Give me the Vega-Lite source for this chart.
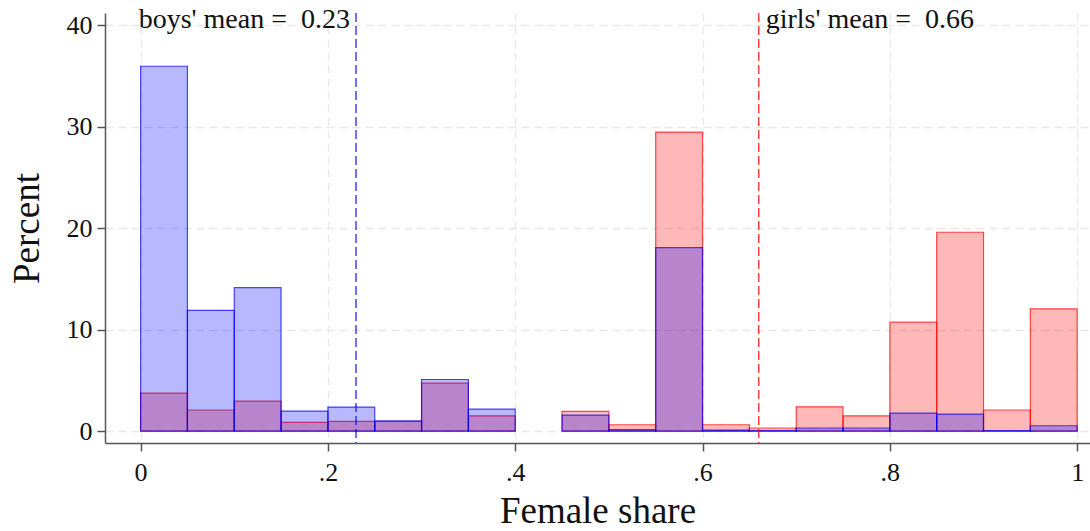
{
  "$schema": "https://vega.github.io/schema/vega-lite/v6.json",
  "autosize": {"type": "none"},
  "width": 985,
  "height": 430,
  "padding": {"left": 105, "top": 13, "right": 0, "bottom": 88},
  "background": "white",
  "config": {
    "view": {"stroke": null},
    "font": "Liberation Serif, DejaVu Serif, serif",
    "axis": {
      "grid": true,
      "gridColor": "#e8e8e8",
      "gridDash": [8, 5],
      "gridWidth": 1.3,
      "domainColor": "#555555",
      "domainWidth": 1.5,
      "tickColor": "#555555",
      "tickWidth": 1.5,
      "tickSize": 8,
      "labelFont": "Liberation Serif, DejaVu Serif, serif",
      "labelFontSize": 26,
      "labelColor": "#111111",
      "titleFont": "Liberation Serif, DejaVu Serif, serif",
      "titleFontSize": 37,
      "titleFontWeight": "normal",
      "titleColor": "#111111"
    }
  },
  "datasets": {
    "hist": [
      {"group": "girls", "bin_start": 0.00, "bin_end": 0.05, "percent": 3.74},
      {"group": "girls", "bin_start": 0.05, "bin_end": 0.10, "percent": 2.07},
      {"group": "girls", "bin_start": 0.10, "bin_end": 0.15, "percent": 2.95},
      {"group": "girls", "bin_start": 0.15, "bin_end": 0.20, "percent": 0.85},
      {"group": "girls", "bin_start": 0.20, "bin_end": 0.25, "percent": 0.95},
      {"group": "girls", "bin_start": 0.25, "bin_end": 0.30, "percent": 0.95},
      {"group": "girls", "bin_start": 0.30, "bin_end": 0.35, "percent": 4.72},
      {"group": "girls", "bin_start": 0.35, "bin_end": 0.40, "percent": 1.5},
      {"group": "girls", "bin_start": 0.45, "bin_end": 0.50, "percent": 1.93},
      {"group": "girls", "bin_start": 0.50, "bin_end": 0.55, "percent": 0.62},
      {"group": "girls", "bin_start": 0.55, "bin_end": 0.60, "percent": 29.46},
      {"group": "girls", "bin_start": 0.60, "bin_end": 0.65, "percent": 0.62},
      {"group": "girls", "bin_start": 0.65, "bin_end": 0.70, "percent": 0.3},
      {"group": "girls", "bin_start": 0.70, "bin_end": 0.75, "percent": 2.39},
      {"group": "girls", "bin_start": 0.75, "bin_end": 0.80, "percent": 1.5},
      {"group": "girls", "bin_start": 0.80, "bin_end": 0.85, "percent": 10.73},
      {"group": "girls", "bin_start": 0.85, "bin_end": 0.90, "percent": 19.59},
      {"group": "girls", "bin_start": 0.90, "bin_end": 0.95, "percent": 2.07},
      {"group": "girls", "bin_start": 0.95, "bin_end": 1.00, "percent": 12.04},
      {"group": "boys", "bin_start": 0.00, "bin_end": 0.05, "percent": 35.95},
      {"group": "boys", "bin_start": 0.05, "bin_end": 0.10, "percent": 11.9},
      {"group": "boys", "bin_start": 0.10, "bin_end": 0.15, "percent": 14.13},
      {"group": "boys", "bin_start": 0.15, "bin_end": 0.20, "percent": 1.97},
      {"group": "boys", "bin_start": 0.20, "bin_end": 0.25, "percent": 2.36},
      {"group": "boys", "bin_start": 0.25, "bin_end": 0.30, "percent": 1.0},
      {"group": "boys", "bin_start": 0.30, "bin_end": 0.35, "percent": 5.08},
      {"group": "boys", "bin_start": 0.35, "bin_end": 0.40, "percent": 2.16},
      {"group": "boys", "bin_start": 0.45, "bin_end": 0.50, "percent": 1.57},
      {"group": "boys", "bin_start": 0.50, "bin_end": 0.55, "percent": 0.13},
      {"group": "boys", "bin_start": 0.55, "bin_end": 0.60, "percent": 18.07},
      {"group": "boys", "bin_start": 0.60, "bin_end": 0.65, "percent": 0.1},
      {"group": "boys", "bin_start": 0.65, "bin_end": 0.70, "percent": 0.05},
      {"group": "boys", "bin_start": 0.70, "bin_end": 0.75, "percent": 0.3},
      {"group": "boys", "bin_start": 0.75, "bin_end": 0.80, "percent": 0.3},
      {"group": "boys", "bin_start": 0.80, "bin_end": 0.85, "percent": 1.77},
      {"group": "boys", "bin_start": 0.85, "bin_end": 0.90, "percent": 1.67},
      {"group": "boys", "bin_start": 0.90, "bin_end": 0.95, "percent": 0.05},
      {"group": "boys", "bin_start": 0.95, "bin_end": 1.00, "percent": 0.52}
    ],
    "means": [
      {"group": "boys", "mean": 0.23, "label": "boys' mean = \u00a00.23", "top": 40},
      {"group": "girls", "mean": 0.66, "label": "girls' mean = \u00a00.66", "top": 40}
    ]
  },
  "encoding": {
    "x": {
      "type": "quantitative",
      "scale": {"domain": [-0.038, 1.0137], "nice": false, "zero": false},
      "axis": {
        "title": "Female share",
        "values": [0, 0.2, 0.4, 0.6, 0.8, 1],
        "labelExpr": "datum.value == 0 ? '0' : datum.value == 1 ? '1' : replace(format(datum.value, '.1f'), '0.', '.')",
        "labelPadding": 8,
        "titlePadding": 8
      }
    },
    "y": {
      "type": "quantitative",
      "scale": {"domain": [-1.18, 41.2], "nice": false, "zero": false},
      "axis": {
        "title": "Percent",
        "values": [0, 10, 20, 30, 40],
        "labelPadding": 5,
        "titlePadding": 20
      }
    }
  },
  "layer": [
    {
      "data": {"name": "hist"},
      "transform": [{"filter": "datum.group === 'girls'"}],
      "mark": {"type": "bar", "fill": "#ff0000", "fillOpacity": 0.28, "stroke": "#ff0000", "strokeOpacity": 0.7, "strokeWidth": 1.2},
      "encoding": {
        "x": {"field": "bin_start"},
        "x2": {"field": "bin_end"},
        "y": {"field": "percent"},
        "y2": {"datum": 0}
      }
    },
    {
      "data": {"name": "hist"},
      "transform": [{"filter": "datum.group === 'boys'"}],
      "mark": {"type": "bar", "fill": "#0000ff", "fillOpacity": 0.28, "stroke": "#0000ff", "strokeOpacity": 0.7, "strokeWidth": 1.2},
      "encoding": {
        "x": {"field": "bin_start"},
        "x2": {"field": "bin_end"},
        "y": {"field": "percent"},
        "y2": {"datum": 0}
      }
    },
    {
      "data": {"name": "means"},
      "mark": {"type": "rule", "strokeDash": [9, 4], "strokeWidth": 1.5, "opacity": 0.75},
      "encoding": {
        "x": {"field": "mean"},
        "color": {"field": "group", "type": "nominal", "scale": {"domain": ["boys", "girls"], "range": ["#0000ff", "#ff0000"]}, "legend": null}
      }
    },
    {
      "data": {"name": "means"},
      "transform": [{"filter": "datum.group === 'boys'"}],
      "mark": {"type": "text", "align": "right", "baseline": "alphabetic", "dx": -6, "dy": 3, "fontSize": 28, "font": "Liberation Serif, DejaVu Serif, serif", "color": "#111111"},
      "encoding": {
        "x": {"field": "mean"},
        "y": {"field": "top"},
        "text": {"field": "label"}
      }
    },
    {
      "data": {"name": "means"},
      "transform": [{"filter": "datum.group === 'girls'"}],
      "mark": {"type": "text", "align": "left", "baseline": "alphabetic", "dx": 7, "dy": 3, "fontSize": 28, "font": "Liberation Serif, DejaVu Serif, serif", "color": "#111111"},
      "encoding": {
        "x": {"field": "mean"},
        "y": {"field": "top"},
        "text": {"field": "label"}
      }
    }
  ]
}
